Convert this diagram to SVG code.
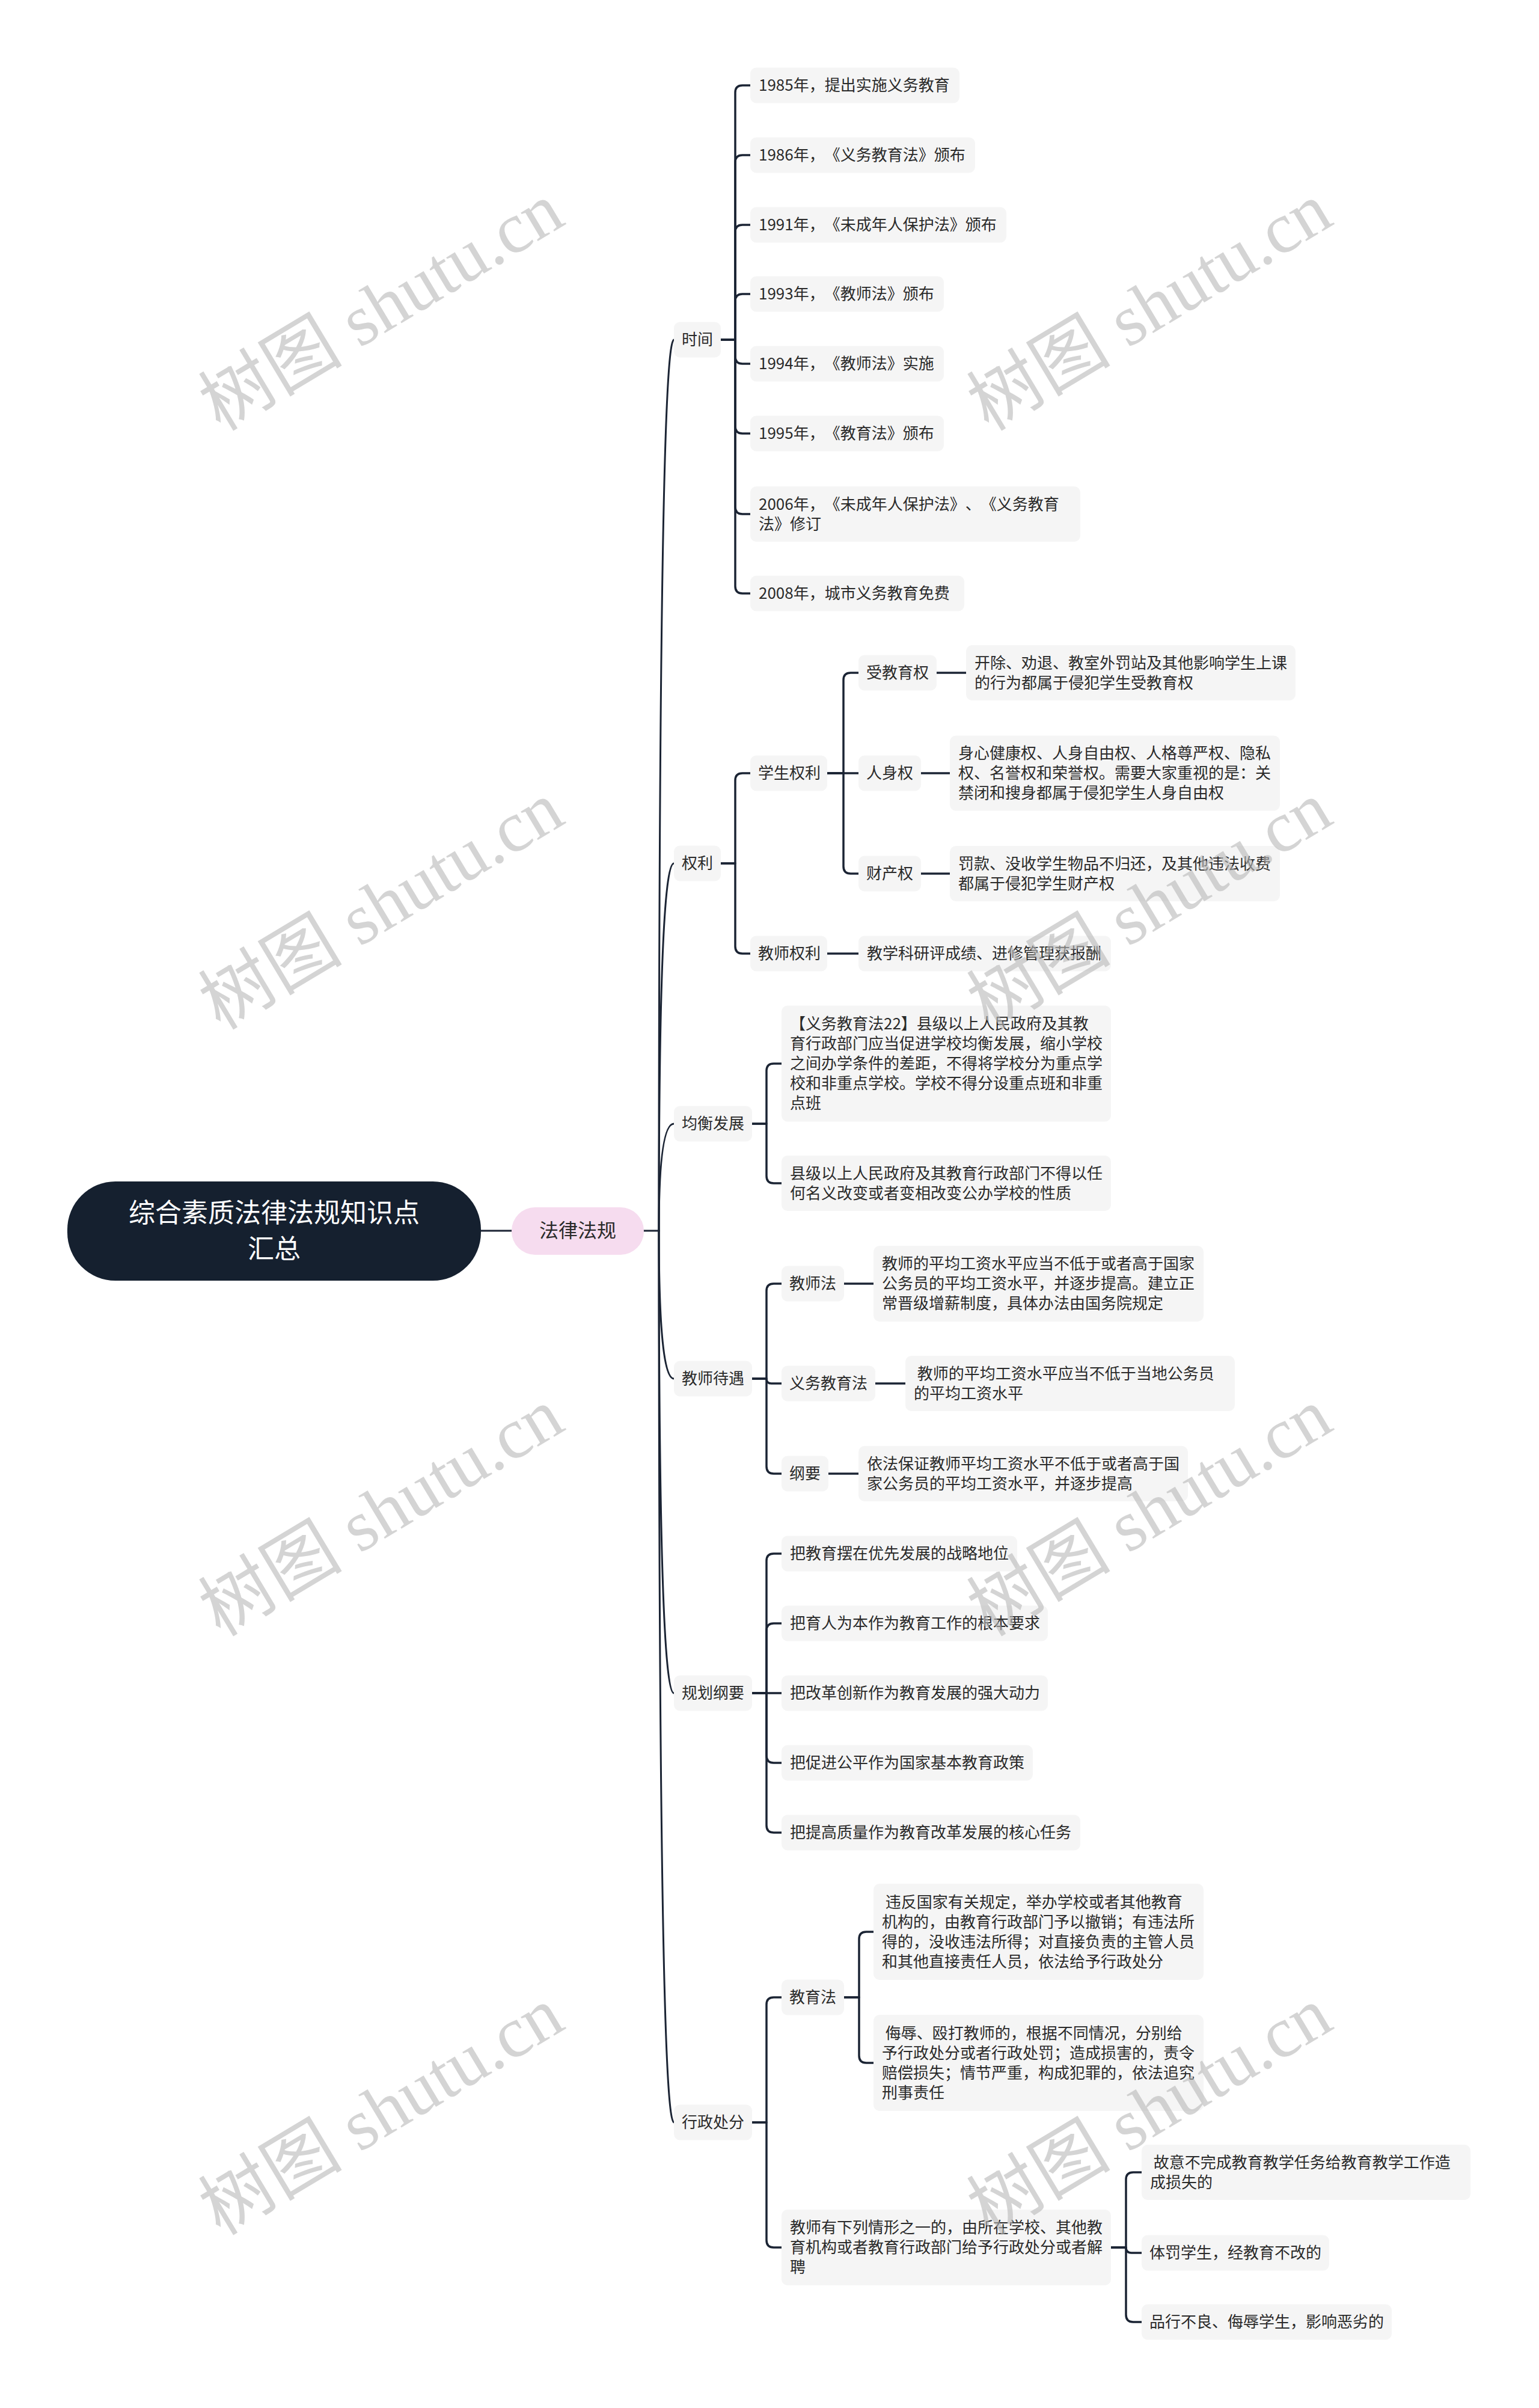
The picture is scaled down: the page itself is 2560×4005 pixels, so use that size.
<svg xmlns="http://www.w3.org/2000/svg" width="2560" height="4005" viewBox="0 0 2560 4005">
<style>
.bg{fill:#ffffff}
.ln{fill:none;stroke:#1b2434;stroke-width:3.5;stroke-linecap:round;stroke-linejoin:round}
.sp{fill:none;stroke:#1b2434;stroke-width:3;stroke-linecap:round}
.box{fill:#f5f5f5}
text{text-spacing-trim:space-all;font-kerning:none}
.t{font-family:"Noto Sans CJK SC","Noto Sans",sans-serif;font-size:26px;fill:#2a2a2a}
.root{fill:#15202f}
.rt{font-family:"Noto Sans CJK SC","Noto Sans",sans-serif;font-size:44px;fill:#ffffff;text-anchor:middle}
.pink{fill:#f6dcef}
.pt{font-family:"Noto Sans CJK SC","Noto Sans",sans-serif;font-size:32px;fill:#2a2a2a;text-anchor:middle}
.wm{font-family:"Liberation Serif","Noto Sans CJK SC",serif;font-size:120px;fill:#b8b8b8;opacity:0.6;text-anchor:middle}
</style>
<rect class="bg" x="0" y="0" width="2560" height="4005"/>

<g id="connectors">
<path class="sp" d="M800 2047 H851"/>
<path class="sp" d="M1070 2047 H1096"/>
<path class="sp" d="M1096 2047 Q1096 565 1121 565"/>
<path class="sp" d="M1096 2047 Q1096 1436 1121 1436"/>
<path class="sp" d="M1096 2047 Q1096 1869 1121 1869"/>
<path class="sp" d="M1096 2047 Q1096 2293 1121 2293"/>
<path class="sp" d="M1096 2047 Q1096 2816 1121 2816"/>
<path class="sp" d="M1096 2047 Q1096 3530 1121 3530"/>

<path class="ln" d="M1199 565 H1223 V154 Q1223 142 1235 142 H1248"/>
<path class="ln" d="M1199 565 H1223 V270 Q1223 258 1235 258 H1248"/>
<path class="ln" d="M1199 565 H1223 V386 Q1223 374 1235 374 H1248"/>
<path class="ln" d="M1199 565 H1223 V501 Q1223 489 1235 489 H1248"/>
<path class="ln" d="M1199 565 H1223 V593 Q1223 605 1235 605 H1248"/>
<path class="ln" d="M1199 565 H1223 V709 Q1223 721 1235 721 H1248"/>
<path class="ln" d="M1199 565 H1223 V843 Q1223 855 1235 855 H1248"/>
<path class="ln" d="M1199 565 H1223 V975 Q1223 987 1235 987 H1248"/>

<path class="ln" d="M1199 1436 H1223 V1298 Q1223 1286 1235 1286 H1248"/>
<path class="ln" d="M1199 1436 H1223 V1574 Q1223 1586 1235 1586 H1248"/>
<path class="ln" d="M1376 1286 H1403 V1131 Q1403 1119 1415 1119 H1428"/>
<path class="ln" d="M1376 1286 H1428"/>
<path class="ln" d="M1376 1286 H1403 V1441 Q1403 1453 1415 1453 H1428"/>
<path class="ln" d="M1558 1119 H1607"/>
<path class="ln" d="M1532 1286 H1580"/>
<path class="ln" d="M1532 1453 H1580"/>
<path class="ln" d="M1376 1586 H1428"/>

<path class="ln" d="M1251 1869 H1275 V1781 Q1275 1769 1287 1769 H1300"/>
<path class="ln" d="M1251 1869 H1275 V1956 Q1275 1968 1287 1968 H1300"/>

<path class="ln" d="M1251 2293 H1275 V2147 Q1275 2135 1287 2135 H1300"/>
<path class="ln" d="M1251 2293 H1275 Q1275 2301 1283 2301 H1300"/>
<path class="ln" d="M1251 2293 H1275 V2439 Q1275 2451 1287 2451 H1300"/>
<path class="ln" d="M1404 2135 H1453"/>
<path class="ln" d="M1456 2301 H1506"/>
<path class="ln" d="M1378 2451 H1428"/>

<path class="ln" d="M1251 2816 H1275 V2596 Q1275 2584 1287 2584 H1300"/>
<path class="ln" d="M1251 2816 H1275 V2712 Q1275 2700 1287 2700 H1300"/>
<path class="ln" d="M1251 2816 H1300"/>
<path class="ln" d="M1251 2816 H1275 V2920 Q1275 2932 1287 2932 H1300"/>
<path class="ln" d="M1251 2816 H1275 V3036 Q1275 3048 1287 3048 H1300"/>

<path class="ln" d="M1251 3530 H1275 V3334 Q1275 3322 1287 3322 H1300"/>
<path class="ln" d="M1251 3530 H1275 V3726 Q1275 3738 1287 3738 H1300"/>
<path class="ln" d="M1404 3322 H1429 V3225 Q1429 3213 1441 3213 H1453"/>
<path class="ln" d="M1404 3322 H1429 V3419 Q1429 3431 1441 3431 H1453"/>
<path class="ln" d="M1848 3738 H1873 V3625 Q1873 3613 1885 3613 H1899"/>
<path class="ln" d="M1848 3738 H1873 Q1873 3747 1882 3747 H1899"/>
<path class="ln" d="M1848 3738 H1873 V3850 Q1873 3862 1885 3862 H1899"/>
</g>

<g id="root">
<rect class="root" x="112" y="1965" width="688" height="165" rx="80"/>
<text class="rt" x="456" y="2033">综合素质法律法规知识点</text>
<text class="rt" x="456" y="2093">汇总</text>
</g>
<g id="n-falv">
<rect class="pink" x="851" y="2008" width="220" height="79" rx="39"/>
<text class="pt" x="961" y="2058">法律法规</text>
</g>

<g id="n-shijian"><rect class="box" x="1121" y="535.5" width="78" height="59" rx="10"/><text class="t" x="1134" y="574">时间</text></g>
<g id="n-1985"><rect class="box" x="1248" y="112.5" width="348" height="59" rx="10"/><text class="t" x="1262" y="151">1985年，提出实施义务教育</text></g>
<g id="n-1986"><rect class="box" x="1248" y="228.5" width="374" height="59" rx="10"/><text class="t" x="1262" y="267">1986年，《义务教育法》颁布</text></g>
<g id="n-1991"><rect class="box" x="1248" y="344.5" width="426" height="59" rx="10"/><text class="t" x="1262" y="383">1991年，《未成年人保护法》颁布</text></g>
<g id="n-1993"><rect class="box" x="1248" y="459.5" width="322" height="59" rx="10"/><text class="t" x="1262" y="498">1993年，《教师法》颁布</text></g>
<g id="n-1994"><rect class="box" x="1248" y="575.5" width="322" height="59" rx="10"/><text class="t" x="1262" y="614">1994年，《教师法》实施</text></g>
<g id="n-1995"><rect class="box" x="1248" y="691.5" width="322" height="59" rx="10"/><text class="t" x="1262" y="730">1995年，《教育法》颁布</text></g>
<g id="n-2006"><rect class="box" x="1248" y="809" width="549" height="92" rx="10"/><text class="t" x="1262" y="847.5">2006年，《未成年人保护法》、《义务教育</text><text class="t" x="1262" y="880.5">法》修订</text></g>
<g id="n-2008"><rect class="box" x="1248" y="957.5" width="356" height="59" rx="10"/><text class="t" x="1262" y="996">2008年，城市义务教育免费</text></g>

<g id="n-quanli"><rect class="box" x="1121" y="1406.5" width="78" height="59" rx="10"/><text class="t" x="1134" y="1445">权利</text></g>
<g id="n-xsql"><rect class="box" x="1248" y="1256.5" width="128" height="59" rx="10"/><text class="t" x="1261" y="1295">学生权利</text></g>
<g id="n-jsql"><rect class="box" x="1248" y="1556.5" width="128" height="59" rx="10"/><text class="t" x="1261" y="1595">教师权利</text></g>
<g id="n-sjyq"><rect class="box" x="1428" y="1089.5" width="130" height="59" rx="10"/><text class="t" x="1441" y="1128">受教育权</text></g>
<g id="n-rsq"><rect class="box" x="1428" y="1256.5" width="104" height="59" rx="10"/><text class="t" x="1441" y="1295">人身权</text></g>
<g id="n-ccq"><rect class="box" x="1428" y="1423.5" width="104" height="59" rx="10"/><text class="t" x="1441" y="1462">财产权</text></g>
<g id="n-sjyq-c"><rect class="box" x="1607" y="1073" width="548" height="92" rx="10"/><text class="t" x="1621" y="1111.5">开除、劝退、教室外罚站及其他影响学生上课</text><text class="t" x="1621" y="1144.5">的行为都属于侵犯学生受教育权</text></g>
<g id="n-rsq-c"><rect class="box" x="1580" y="1223.5" width="549" height="125" rx="10"/><text class="t" x="1594" y="1262">身心健康权、人身自由权、人格尊严权、隐私</text><text class="t" x="1594" y="1295">权、名誉权和荣誉权。需要大家重视的是：关</text><text class="t" x="1594" y="1328">禁闭和搜身都属于侵犯学生人身自由权</text></g>
<g id="n-ccq-c"><rect class="box" x="1580" y="1407" width="549" height="92" rx="10"/><text class="t" x="1594" y="1445.5">罚款、没收学生物品不归还，及其他违法收费</text><text class="t" x="1594" y="1478.5">都属于侵犯学生财产权</text></g>
<g id="n-jsql-c"><rect class="box" x="1428" y="1556.5" width="420" height="59" rx="10"/><text class="t" x="1442" y="1595">教学科研评成绩、进修管理获报酬</text></g>

<g id="n-jhfz"><rect class="box" x="1121" y="1839.5" width="130" height="59" rx="10"/><text class="t" x="1134" y="1878">均衡发展</text></g>
<g id="n-jhfz-1"><rect class="box" x="1300" y="1672.5" width="548" height="193" rx="10"/><text class="t" x="1314" y="1712">【义务教育法22】县级以上人民政府及其教</text><text class="t" x="1314" y="1745">育行政部门应当促进学校均衡发展，缩小学校</text><text class="t" x="1314" y="1778">之间办学条件的差距，不得将学校分为重点学</text><text class="t" x="1314" y="1811">校和非重点学校。学校不得分设重点班和非重</text><text class="t" x="1314" y="1844">点班</text></g>
<g id="n-jhfz-2"><rect class="box" x="1300" y="1922" width="548" height="92" rx="10"/><text class="t" x="1314" y="1960.5">县级以上人民政府及其教育行政部门不得以任</text><text class="t" x="1314" y="1993.5">何名义改变或者变相改变公办学校的性质</text></g>

<g id="n-jsdy"><rect class="box" x="1121" y="2263.5" width="130" height="59" rx="10"/><text class="t" x="1134" y="2302">教师待遇</text></g>
<g id="n-jsf"><rect class="box" x="1300" y="2105.5" width="104" height="59" rx="10"/><text class="t" x="1313" y="2144">教师法</text></g>
<g id="n-jsf-c"><rect class="box" x="1453" y="2072" width="549" height="126" rx="10"/><text class="t" x="1467" y="2111">教师的平均工资水平应当不低于或者高于国家</text><text class="t" x="1467" y="2144">公务员的平均工资水平，并逐步提高。建立正</text><text class="t" x="1467" y="2177">常晋级增薪制度，具体办法由国务院规定</text></g>
<g id="n-ywjyf"><rect class="box" x="1300" y="2271.5" width="156" height="59" rx="10"/><text class="t" x="1313" y="2310">义务教育法</text></g>
<g id="n-ywjyf-c"><rect class="box" x="1506" y="2255" width="548" height="92" rx="10"/><text class="t" x="1520" y="2293.5" xml:space="preserve"> 教师的平均工资水平应当不低于当地公务员</text><text class="t" x="1520" y="2326.5">的平均工资水平</text></g>
<g id="n-gy"><rect class="box" x="1300" y="2421.5" width="78" height="59" rx="10"/><text class="t" x="1313" y="2460">纲要</text></g>
<g id="n-gy-c"><rect class="box" x="1428" y="2405" width="548" height="92" rx="10"/><text class="t" x="1442" y="2443.5">依法保证教师平均工资水平不低于或者高于国</text><text class="t" x="1442" y="2476.5">家公务员的平均工资水平，并逐步提高</text></g>

<g id="n-ghgy"><rect class="box" x="1121" y="2786.5" width="130" height="59" rx="10"/><text class="t" x="1134" y="2825">规划纲要</text></g>
<g id="n-gh1"><rect class="box" x="1300" y="2554.5" width="392" height="59" rx="10"/><text class="t" x="1314" y="2593">把教育摆在优先发展的战略地位</text></g>
<g id="n-gh2"><rect class="box" x="1300" y="2670.5" width="443" height="59" rx="10"/><text class="t" x="1314" y="2709">把育人为本作为教育工作的根本要求</text></g>
<g id="n-gh3"><rect class="box" x="1300" y="2786.5" width="443" height="59" rx="10"/><text class="t" x="1314" y="2825">把改革创新作为教育发展的强大动力</text></g>
<g id="n-gh4"><rect class="box" x="1300" y="2902.5" width="418" height="59" rx="10"/><text class="t" x="1314" y="2941">把促进公平作为国家基本教育政策</text></g>
<g id="n-gh5"><rect class="box" x="1300" y="3018.5" width="497" height="59" rx="10"/><text class="t" x="1314" y="3057">把提高质量作为教育改革发展的核心任务</text></g>

<g id="n-xzcf"><rect class="box" x="1121" y="3500.5" width="130" height="59" rx="10"/><text class="t" x="1134" y="3539">行政处分</text></g>
<g id="n-jyf"><rect class="box" x="1300" y="3292.5" width="104" height="59" rx="10"/><text class="t" x="1313" y="3331">教育法</text></g>
<g id="n-jyf-1"><rect class="box" x="1453" y="3133" width="549" height="160" rx="10"/><text class="t" x="1467" y="3172.5" xml:space="preserve"> 违反国家有关规定，举办学校或者其他教育</text><text class="t" x="1467" y="3205.5">机构的，由教育行政部门予以撤销；有违法所</text><text class="t" x="1467" y="3238.5">得的，没收违法所得；对直接负责的主管人员</text><text class="t" x="1467" y="3271.5">和其他直接责任人员，依法给予行政处分</text></g>
<g id="n-jyf-2"><rect class="box" x="1453" y="3351" width="549" height="160" rx="10"/><text class="t" x="1467" y="3390.5" xml:space="preserve"> 侮辱、殴打教师的，根据不同情况，分别给</text><text class="t" x="1467" y="3423.5">予行政处分或者行政处罚；造成损害的，责令</text><text class="t" x="1467" y="3456.5">赔偿损失；情节严重，构成犯罪的，依法追究</text><text class="t" x="1467" y="3489.5">刑事责任</text></g>
<g id="n-jsyx"><rect class="box" x="1300" y="3675" width="548" height="126" rx="10"/><text class="t" x="1314" y="3714">教师有下列情形之一的，由所在学校、其他教</text><text class="t" x="1314" y="3747">育机构或者教育行政部门给予行政处分或者解</text><text class="t" x="1314" y="3780">聘</text></g>
<g id="n-jsyx-a"><rect class="box" x="1899" y="3567" width="547" height="92" rx="10"/><text class="t" x="1913" y="3605.5" xml:space="preserve"> 故意不完成教育教学任务给教育教学工作造</text><text class="t" x="1913" y="3638.5">成损失的</text></g>
<g id="n-jsyx-b"><rect class="box" x="1899" y="3717.5" width="312" height="59" rx="10"/><text class="t" x="1912" y="3756">体罚学生，经教育不改的</text></g>
<g id="n-jsyx-c"><rect class="box" x="1899" y="3832.5" width="416" height="59" rx="10"/><text class="t" x="1912" y="3871">品行不良、侮辱学生，影响恶劣的</text></g>

<g id="watermarks">
<text class="wm" x="655" y="545" transform="rotate(-31 655 545)">树图 shutu.cn</text>
<text class="wm" x="1933" y="545" transform="rotate(-31 1933 545)">树图 shutu.cn</text>
<text class="wm" x="655" y="1541" transform="rotate(-31 655 1541)">树图 shutu.cn</text>
<text class="wm" x="1933" y="1541" transform="rotate(-31 1933 1541)">树图 shutu.cn</text>
<text class="wm" x="655" y="2550" transform="rotate(-31 655 2550)">树图 shutu.cn</text>
<text class="wm" x="1933" y="2550" transform="rotate(-31 1933 2550)">树图 shutu.cn</text>
<text class="wm" x="655" y="3546" transform="rotate(-31 655 3546)">树图 shutu.cn</text>
<text class="wm" x="1933" y="3546" transform="rotate(-31 1933 3546)">树图 shutu.cn</text>
</g>
</svg>
